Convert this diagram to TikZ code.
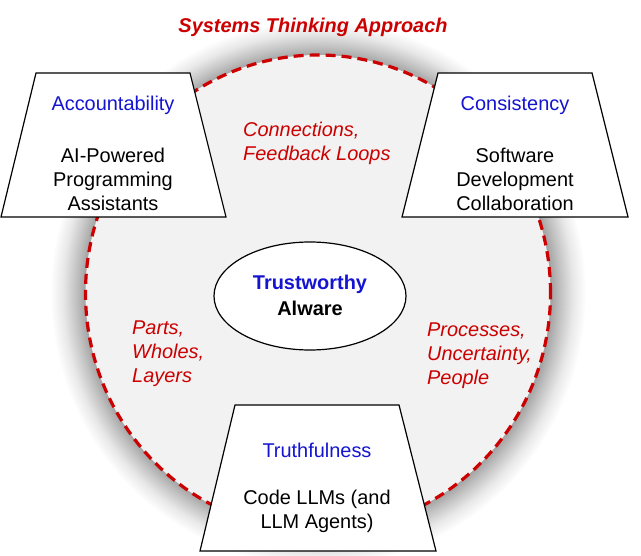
\documentclass[tikz,border=0pt]{standalone}
\usepackage{fontspec}
\setmainfont{Liberation Sans}
\usetikzlibrary{shapes.geometric}
\definecolor{sysred}{HTML}{CC0000}
\definecolor{qblue}{HTML}{1414D2}
\definecolor{ringfill}{HTML}{F2F2F2}
% soft glow that fades out just beyond the ring's rim
% (the shaded path's edge lies at 25bp of the shading)
\pgfdeclareradialshading{ringglow}{\pgfpoint{0bp}{0bp}}{%
  color(0bp)=(white);
  color(20.8bp)=(black!42);
  color(21.6bp)=(black!38);
  color(22.6bp)=(black!24);
  color(23.8bp)=(black!9);
  color(25bp)=(white);
  color(50bp)=(white)}
\begin{document}
\begin{tikzpicture}[x=1bp,y=-1bp,
  txt/.style={font=\fontsize{20}{24}\selectfont, inner sep=0pt, align=center},
  quality/.style={txt, text=qblue},
  theme/.style={txt, text=sysred, font=\fontsize{20}{24}\selectfont\itshape, align=left, anchor=west},
  ring/.style={ellipse, inner sep=0pt, fill=ringfill, draw=sysred, line width=3.2bp,
    dash pattern=on 10bp off 6bp},
  trap/.style={fill=white, draw=black, line width=1.2bp, line join=miter},
  core/.style={ellipse, inner sep=0pt, fill=white, draw=black, line width=1.2bp}]
\useasboundingbox (0,0) rectangle (641,556);

% glow behind the systems-thinking ring
\shade[shading=ringglow] (318,293) ellipse [x radius=268bp, y radius=273bp];
% the ring itself
\node[ring, minimum width=465bp, minimum height=476bp] (ring) at (318,293) {};

% title
\node[txt, text=sysred, font=\fontsize{20}{24}\selectfont\bfseries\itshape] (title) at (313,27) {Systems Thinking Approach};

% themes inside the ring
\node[theme] (conn) at (243,143) {Connections,\\Feedback Loops};
\node[theme] (parts) at (132,354) {Parts,\\Wholes,\\Layers};
\node[theme] (proc) at (427,356) {Processes,\\Uncertainty,\\People};

% central ellipse
\node[core, minimum width=192bp, minimum height=108bp] (core) at (310,296) {};
\node[txt, font=\fontsize{20}{26}\selectfont\bfseries] (coretext) at (310,295)
  {\textcolor{qblue}{Trustworthy}\\Alware};

% three trapezoids
\draw[trap] (36,73) -- (190,73) -- (226,217) -- (1,217) -- cycle;
\draw[trap] (438,73) -- (592,73) -- (628,217) -- (402,217) -- cycle;
\draw[trap] (235,405) -- (399,405) -- (436,551) -- (200,551) -- cycle;

\node[quality] (acc) at (113,105) {Accountability};
\node[txt] (accbody) at (113,179) {AI-Powered\\Programming\\Assistants};

\node[quality] (cons) at (515,105) {Consistency};
\node[txt] (consbody) at (515,179) {Software\\Development\\Collaboration};

\node[quality] (truth) at (317,450) {Truthfulness};
\node[txt] (truthbody) at (317,511) {Code LLMs (and\\LLM Agents)};
\end{tikzpicture}
\end{document}
